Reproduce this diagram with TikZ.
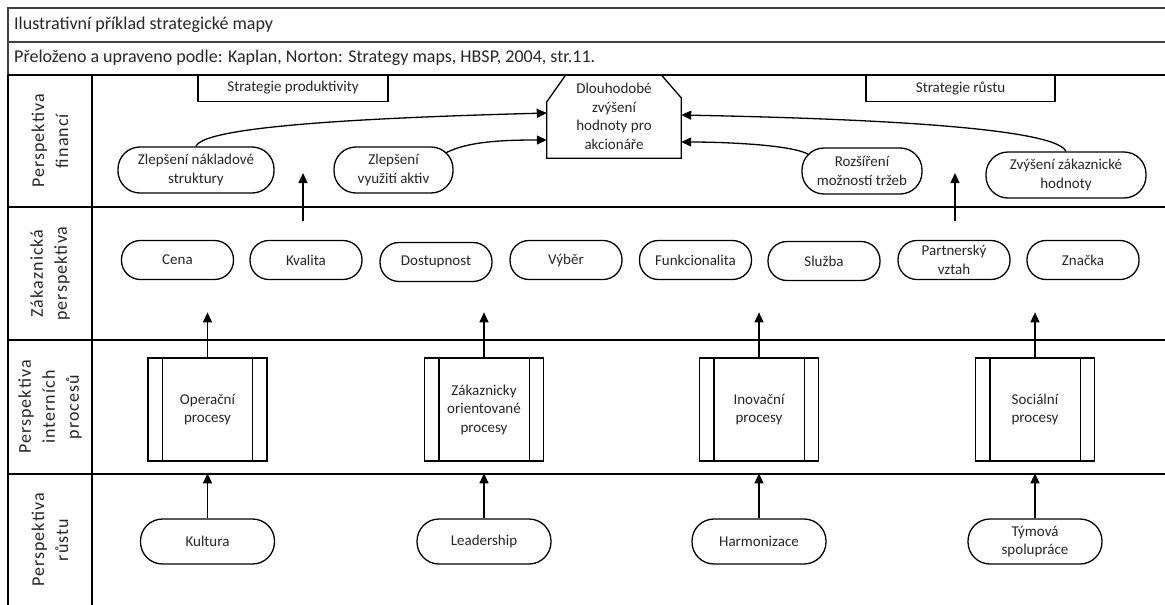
\documentclass[tikz,border=0pt]{standalone}
\usepackage{fontspec}
\setmainfont{Carlito}
\newfontfamily\rowfont[LetterSpace=6]{Carlito}
\usetikzlibrary{arrows.meta}
\begin{document}
\begin{tikzpicture}[x=1pt,y=-1pt,
  frame/.style={line width=1.6pt, black},
  headrule/.style={line width=1.5pt, black!75},
  txt/.style={text=black!85, font=\fontsize{15}{18.5}\selectfont, align=center},
  pill/.style={txt, draw=black, line width=1.3pt, inner sep=1pt},
  finpill/.style={pill, minimum height=46pt, rounded corners=22pt},
  cuspill/.style={pill, minimum width=112pt, minimum height=39pt, rounded corners=19pt},
  growpill/.style={pill, minimum width=134pt, minimum height=45pt, rounded corners=22pt},
  procbox/.style={txt, draw=black, line width=1.3pt, minimum width=119pt, minimum height=103pt},
  stratbox/.style={txt, draw=black, line width=1.3pt, minimum height=27pt},
  rowlabel/.style={rotate=90, align=center, text=black!85, font=\rowfont\fontsize{18}{24}\selectfont},
  headtext/.style={anchor=west, inner sep=0pt, text=black!85, font=\fontsize{18}{20}\selectfont},
  conn/.style={line width=1.3pt, -{Triangle[length=10pt,width=9pt]}}
]
\useasboundingbox (0,0) rectangle (1165,605);
\fill[white] (0,0) rectangle (1165,605);

% header bands
\draw[headrule] (1165,8) -- (8,8) -- (8,75);
\draw[headrule] (8,42) -- (1165,42);
\node[headtext] (title) at (14,25) {Ilustrativní příklad strategické mapy};
\node[headtext] (source) at (14,58) {Přeloženo a upraveno podle: Kaplan, Norton: Strategy maps, HBSP, 2004, str.11.};

% lane grid
\draw[frame] (8,75) -- (1165,75);
\draw[frame] (8,75) -- (8,605);
\draw[frame] (92,75) -- (92,605);
\draw[frame] (8,207) -- (1165,207);
\draw[frame] (8,340) -- (1165,340);
\draw[frame] (8,474) -- (1165,474);

% lane titles
\node[rowlabel] (lfin) at (50,141) {Perspektiva\\financí};
\node[rowlabel] (lcus) at (50,273.5) {Zákaznická\\perspektiva};
\node[rowlabel] (lint) at (50,407) {Perspektiva\\interních\\procesů};
\node[rowlabel] (lgro) at (50,540) {Perspektiva\\růstu};

% financial perspective
\node[stratbox, minimum width=190pt] (sprod) at (293,88) {Strategie produktivity};
\node[stratbox, minimum width=189pt] (sgrow) at (960.5,88) {Strategie růstu};
\node[txt, minimum width=134pt, minimum height=83pt] (goal) at (614,116.5)
  {Dlouhodobé\\zvýšení\\hodnoty pro\\akcionáře};
\draw[line width=1.3pt] ([yshift=-27pt]goal.north west) -- ([xshift=19pt]goal.north west)
  -- ([xshift=-20pt]goal.north east) -- ([yshift=-23pt]goal.north east)
  -- (goal.south east) -- (goal.south west) -- cycle;

\node[finpill, minimum width=156pt] (f1) at (196,170) {Zlepšení nákladové\\struktury};
\node[finpill, minimum width=119pt] (f2) at (393.5,170) {Zlepšení\\využití aktiv};
\node[finpill, minimum width=120pt] (f3) at (862,171) {Rozšíření\\možností tržeb};
\node[finpill, minimum width=160pt] (f4) at (1066,175) {Zvýšení zákaznické\\hodnoty};

\draw[conn] (f1.north) .. controls +(8,-22) and +(-147,4) .. ([yshift=3.5pt]goal.west);
\draw[conn] ([xshift=-8pt,yshift=17pt]f2.east) .. controls +(22,-12) and +(-40,0) .. ([yshift=-23.5pt]goal.west);
\draw[conn] ([xshift=8pt,yshift=16pt]f3.west) .. controls +(-14,-10) and +(45,0) .. ([yshift=-25.5pt]goal.east);
\draw[conn] (f4.north) .. controls +(-12,-26) and +(150,3) .. ([yshift=1.5pt]goal.east);

% customer perspective
\foreach \n/\x/\y/\t in {c1/177.5/260/Cena, c2/306/260/Kvalita, c3/436/262/Dostupnost, c4/566/260/Výběr,
  c5/695.5/260/Funkcionalita, c6/824/261/Služba, c7/954/260/{Partnerský\\vztah}, c8/1083/260/Značka}
  \node[cuspill] (\n) at (\x,\y) {\t};

\coordinate (q1s) at (303,221);
\coordinate (q1e) at (303,173);
\coordinate (q2s) at (955,221);
\coordinate (q2e) at (955,173);
\draw[conn] (q1s) -- (q1e);
\draw[conn] (q2s) -- (q2e);

% internal processes
\node[procbox] (p1) at (207.5,409.5) {Operační\\procesy};
\node[procbox] (p2) at (484,409.5) {Zákaznicky\\orientované\\procesy};
\node[procbox] (p3) at (759,409.5) {Inovační\\procesy};
\node[procbox] (p4) at (1035,409.5) {Sociální\\procesy};
\foreach \p in {p1,p2,p3,p4} {
  \draw[line width=1.3pt] ([xshift=15pt]\p.north west) -- ([xshift=15pt]\p.south west);
  \draw[line width=1.3pt] ([xshift=-15pt]\p.north east) -- ([xshift=-15pt]\p.south east);
  \coordinate (\p up) at ([yshift=45pt]\p.north);
  \draw[conn] (\p.north) -- (\p up);
}

% learning and growth
\node[growpill] (g1) at (207.5,541.5) {Kultura};
\node[growpill] (g2) at (484,541.5) {Leadership};
\node[growpill] (g3) at (759,541.5) {Harmonizace};
\node[growpill] (g4) at (1035,541.5) {Týmová\\spolupráce};
\foreach \g in {g1,g2,g3,g4} {
  \coordinate (\g up) at ([yshift=45pt]\g.north);
  \draw[conn] (\g.north) -- (\g up);
}
\end{tikzpicture}
\end{document}
